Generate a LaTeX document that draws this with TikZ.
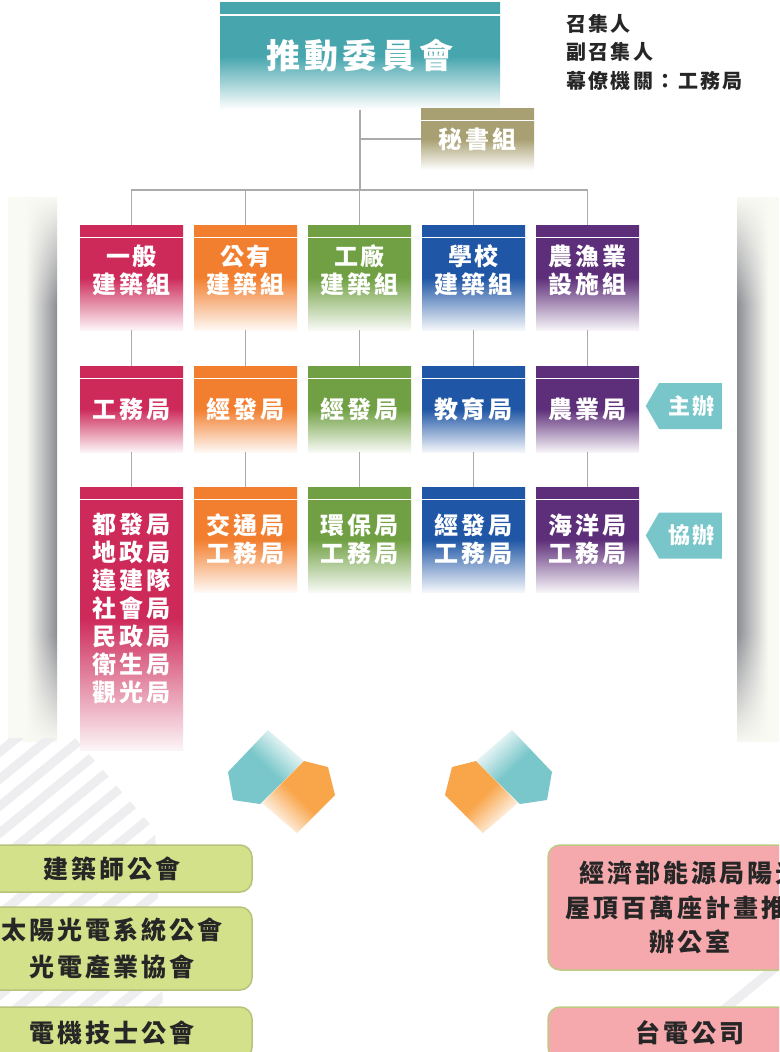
\documentclass[tikz,border=0pt]{standalone}
\usepackage{fontspec}
\newfontfamily\cjk{Noto Sans CJK TC}[LetterSpace=12]
\usetikzlibrary{positioning,shapes.symbols,fadings}

\definecolor{committeeteal}{HTML}{46A5AD}
\definecolor{secretaryolive}{HTML}{A8A072}
\definecolor{groupred}{HTML}{CD2A5A}
\definecolor{grouporange}{HTML}{F27F2F}
\definecolor{groupgreen}{HTML}{70A043}
\definecolor{groupblue}{HTML}{1F56A5}
\definecolor{grouppurple}{HTML}{5D2E79}
\definecolor{tagteal}{HTML}{79C6CA}
\definecolor{hexteal}{HTML}{79C7CA}
\definecolor{hexorange}{HTML}{F9A54A}
\definecolor{assocgreen}{HTML}{D3E18B}
\definecolor{assocborder}{HTML}{B6C47B}
\definecolor{officepink}{HTML}{F5A9AC}
\definecolor{officeborder}{HTML}{BFCB84}
\definecolor{linkgray}{HTML}{ABABAB}
\definecolor{panelgray}{HTML}{8C8E94}
\definecolor{panelcream}{HTML}{FAFAF4}
\definecolor{stripegray}{HTML}{EEEEF0}
\definecolor{textdark}{HTML}{262626}

\pgfdeclareverticalshading{panelendsshade}{100bp}{color(0bp)=(black); color(25bp)=(black); color(35bp)=(white); color(65bp)=(white); color(75bp)=(black); color(100bp)=(black)}
\tikzfading[name=soft top, top color=transparent!100, bottom color=transparent!0, middle color=transparent!0]
\tikzfading[name=panel ends, shading=panelendsshade]

\begin{document}
\begin{tikzpicture}[x=1pt, y=-1pt, node distance=114pt, font=\cjk]

    % Define node styles
    \tikzstyle{band_line} = [path picture={\draw [white, line width=1.2pt] ([yshift=-12.5pt]path picture bounding box.north west) -- ([yshift=-12.5pt]path picture bounding box.north east);}]
    \tikzstyle{box_text} = [text=white, font=\cjk\bfseries\fontsize{24pt}{28pt}\selectfont, align=center, inner sep=0pt]
    \tikzstyle{committee_block} = [band_line, box_text, font=\cjk\bfseries\fontsize{34pt}{40pt}\selectfont, minimum width=280pt, minimum height=107pt, top color=committeeteal, bottom color=white, middle color=committeeteal]
    \tikzstyle{secretary_block} = [band_line, box_text, minimum width=113pt, minimum height=62pt, top color=secretaryolive, bottom color=white, middle color=secretaryolive]
    \tikzstyle{red_block} = [band_line, box_text, minimum width=103pt, top color=groupred, bottom color=groupred!5, middle color=groupred]
    \tikzstyle{orange_block} = [band_line, box_text, minimum width=103pt, top color=grouporange, bottom color=grouporange!5, middle color=grouporange]
    \tikzstyle{green_block} = [band_line, box_text, minimum width=103pt, top color=groupgreen, bottom color=groupgreen!5, middle color=groupgreen]
    \tikzstyle{blue_block} = [band_line, box_text, minimum width=103pt, top color=groupblue, bottom color=groupblue!5, middle color=groupblue]
    \tikzstyle{purple_block} = [band_line, box_text, minimum width=103pt, top color=grouppurple, bottom color=grouppurple!5, middle color=grouppurple]
    \tikzstyle{tag_block} = [signal, signal to=west, signal pointer angle=120, fill=tagteal, text=white, font=\cjk\bfseries\fontsize{22pt}{28pt}\selectfont, minimum width=76pt, minimum height=46pt, inner sep=0pt, anchor=east]
    \tikzstyle{assoc_block} = [draw=assocborder, line width=1.5pt, fill=assocgreen, rounded corners=12pt, minimum width=280pt, text=textdark, align=center, font=\cjk\bfseries\fontsize{25pt}{37pt}\selectfont]
    \tikzstyle{office_block} = [draw=officeborder, line width=1.5pt, fill=officepink, rounded corners=12pt, minimum width=284pt, text=textdark, align=center, font=\cjk\bfseries\fontsize{25pt}{34.5pt}\selectfont]
    \tikzstyle{link} = [linkgray, line width=1.5pt]
    \tikzstyle{stripe} = [stripegray, line width=9pt]

    \useasboundingbox (0,0) rectangle (779,1052);
    \clip (0,0) rectangle (779,1052);
    \fill [white] (0,0) rectangle (779,1052);

    % Side panels
    \fill [panelcream] (8,197) rectangle (57,742);
    \shade [left color=panelcream, right color=panelgray, path fading=panel ends] (26,197) rectangle (57,742);
    \fill [panelcream] (737,197) rectangle (779,742);
    \shade [left color=panelgray, right color=panelcream, path fading=panel ends] (737,197) rectangle (768,742);

    % Stripes behind the partner boxes
    \begin{scope}
        \clip (0,738) -- (75,738) -- (155,830) -- (165,1052) -- (0,1052) -- cycle;
        \foreach \k in {0,...,17}
            \draw [stripe] (\k*33-400,1052) -- ++(550,-450);
    \end{scope}
    \draw [stripe] (694,1034) -- ++(110,-90);

    % Hexagon pairs
    \fill [hexteal, path fading=soft top, fading angle=-45] (268,730) -- (228,772) -- (233,800) -- (260,804) -- (304,761) -- cycle;
    \fill [hexorange, path fading=soft top, fading angle=135] (304,761) -- (328,767) -- (335,795) -- (297,833) -- (262,803) -- cycle;
    \fill [hexteal, path fading=soft top, fading angle=45] (512,730) -- (552,772) -- (547,800) -- (520,804) -- (476,761) -- cycle;
    \fill [hexorange, path fading=soft top, fading angle=-135] (476,761) -- (452,767) -- (445,795) -- (483,833) -- (518,803) -- cycle;

    % Draw nodes
    \node [committee_block] (committee) at (360,56) {推動委員會};
    \node [secretary_block] (secretary) at (477.5,139) {秘書組};
    \node [anchor=west, align=left, text=textdark, font=\cjk\bfseries\fontsize{20pt}{28.5pt}\selectfont, inner sep=0pt] (members) at (566,52) {召集人\\副召集人\\幕僚機關：工務局};

    \node [red_block, minimum height=105pt, text depth=16pt] (g1) at (131.5,277.5) {一般\\建築組};
    \node [orange_block, minimum height=105pt, text depth=16pt, right of=g1] (g2) {公有\\建築組};
    \node [green_block, minimum height=105pt, text depth=16pt, right of=g2] (g3) {工廠\\建築組};
    \node [blue_block, minimum height=105pt, text depth=16pt, right of=g3] (g4) {學校\\建築組};
    \node [purple_block, minimum height=105pt, text depth=16pt, right of=g4] (g5) {農漁業\\設施組};

    \node [red_block, minimum height=86pt] (h1) at (131.5,409) {工務局};
    \node [orange_block, minimum height=86pt, right of=h1] (h2) {經發局};
    \node [green_block, minimum height=86pt, right of=h2] (h3) {經發局};
    \node [blue_block, minimum height=86pt, right of=h3] (h4) {教育局};
    \node [purple_block, minimum height=86pt, right of=h4] (h5) {農業局};
    \node [tag_block] (lead_tag) at (722,406) {\hspace*{2pt}主辦};

    \node [red_block, minimum height=263pt, text depth=23pt] (c1) at (131.5,618.5) {都發局\\地政局\\違建隊\\社會局\\民政局\\衛生局\\觀光局};
    \node [orange_block, minimum height=105pt, below of=h2, yshift=-16.5pt] (c2) {交通局\\工務局};
    \node [green_block, minimum height=105pt, right of=c2] (c3) {環保局\\工務局};
    \node [blue_block, minimum height=105pt, right of=c3] (c4) {經發局\\工務局};
    \node [purple_block, minimum height=105pt, right of=c4] (c5) {海洋局\\工務局};
    \node [tag_block] (assist_tag) at (722,535.5) {\hspace*{2pt}協辦};

    \node [assoc_block, minimum height=47pt] (architects) at (112,868.5) {建築師公會};
    \node [assoc_block, minimum height=83pt] (solar_assoc) at (112,948.5) {太陽光電系統公會\\光電產業協會};
    \node [assoc_block, minimum height=52pt] (engineers) at (112,1033) {電機技士公會};
    \node [office_block, minimum height=125pt] (energy_office) at (690,907.5) {經濟部能源局陽光\\屋頂百萬座計畫推動\\辦公室};
    \node [office_block, minimum height=52pt] (taipower) at (690,1033) {台電公司};

    % Draw connectors
    \coordinate (bus) at (360,190);
    \draw [link] (committee.south) -- (bus);
    \draw [link] (secretary.west) -- (secretary.west -| bus);
    \draw [link] (g1.north) |- (bus) -| (g5.north);
    \foreach \n in {2,3,4}
        \draw [link] (g\n.north) -- (g\n.north |- bus);
    \foreach \n in {1,...,5} {
        \draw [link] (g\n.south) -- (h\n.north);
        \draw [link] (h\n.south) -- (c\n.north);
    }
\end{tikzpicture}
\end{document}
